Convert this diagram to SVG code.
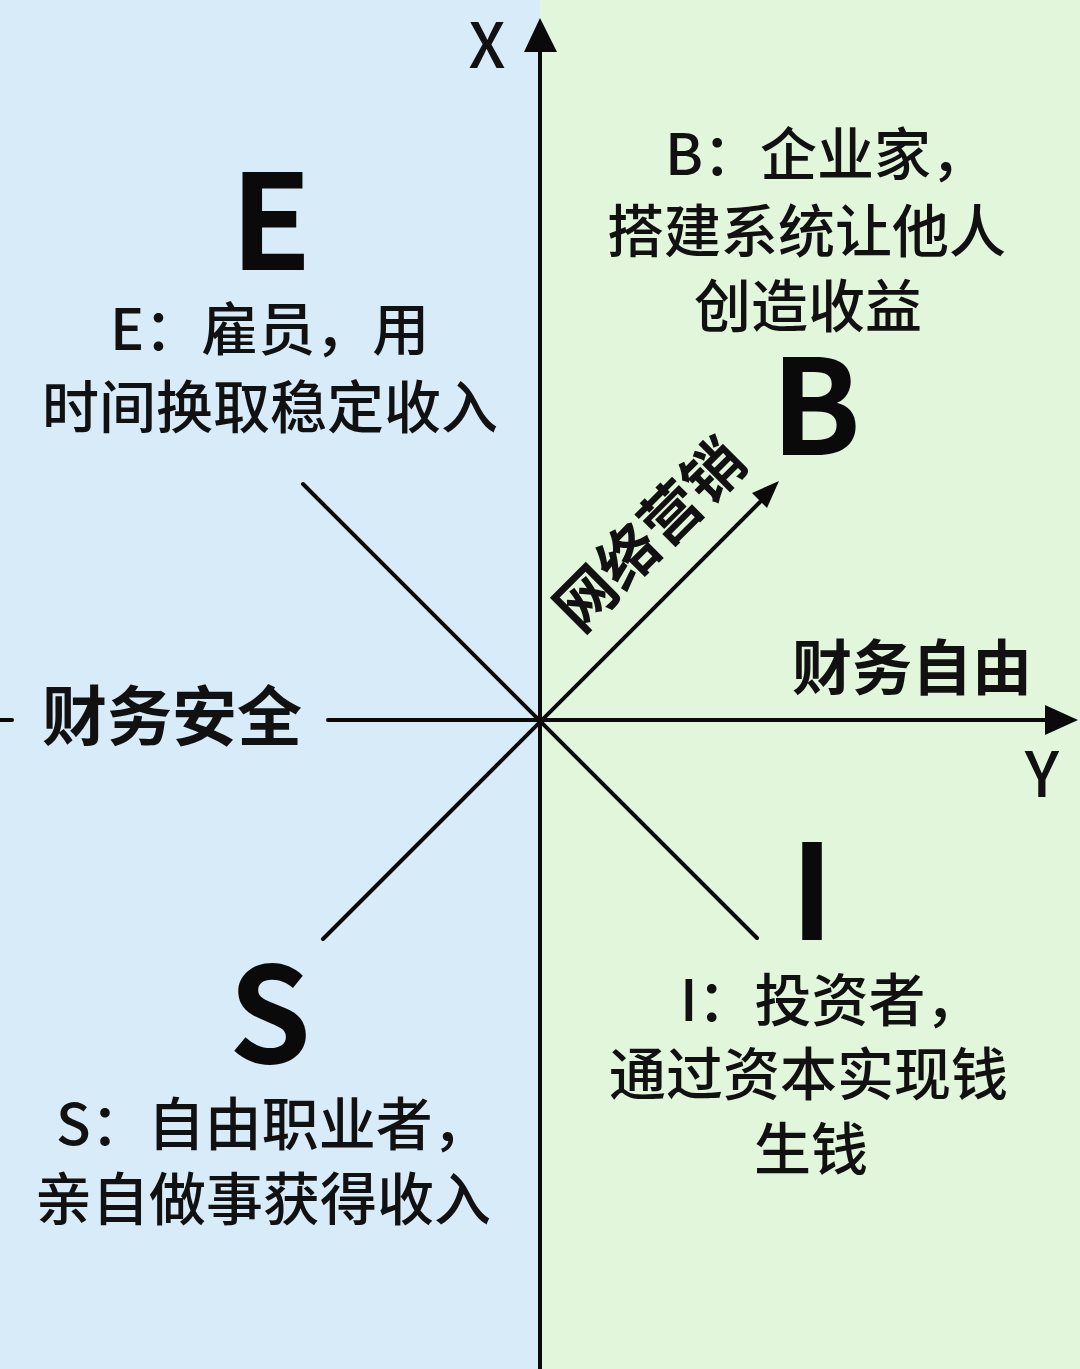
<svg xmlns="http://www.w3.org/2000/svg" width="1080" height="1369" viewBox="0 0 1080 1369">
<defs>
<style>
.t{font-family:"Noto Sans CJK SC","Liberation Sans",sans-serif;fill:#111;font-size:57px;font-weight:500}
.big{font-family:"Noto Sans CJK SC","Liberation Sans",sans-serif;font-weight:700;fill:#0a0a0a;font-size:132px;text-anchor:middle}
.lbl{font-family:"Noto Sans CJK SC","Liberation Sans",sans-serif;font-weight:700;fill:#111}
.xy{font-family:"Noto Sans CJK SC","Liberation Sans",sans-serif;font-weight:500;fill:#111;font-size:62px;text-anchor:middle}
.ax{stroke:#0a0a0a;stroke-width:4;fill:none;stroke-linecap:round}
</style>
</defs>
<rect x="0" y="0" width="540" height="1369" fill="#d7ebf8"/>
<rect x="540" y="0" width="540" height="1369" fill="#e2f6dc"/>
<g id="connectors">
<line class="ax" x1="540" y1="1369" x2="540" y2="50"/>
<polygon points="540,18 524,52 557,52" fill="#0a0a0a"/>
<line class="ax" x1="0" y1="720" x2="12" y2="720"/>
<line class="ax" x1="328" y1="720" x2="1048" y2="720"/>
<polygon points="1078,720 1045,705 1045,735" fill="#0a0a0a"/>
<line class="ax" x1="303" y1="484" x2="757" y2="938"/>
<line class="ax" x1="323" y1="939" x2="760" y2="502"/>
<polygon points="779,481 752,493 767,508" fill="#0a0a0a"/>
</g>
<g id="axis-labels">
<text class="xy" x="487" y="68">X</text>
<text class="xy" x="1042" y="797">Y</text>
<text class="lbl" x="172" y="740" font-size="65" text-anchor="middle">财务安全</text>
<text class="lbl" x="912" y="690" font-size="60" text-anchor="middle">财务自由</text>
<text class="lbl" font-size="60" text-anchor="middle" transform="translate(665,550) rotate(-45)">网络营销</text>
</g>
<g id="node-E">
<text class="big" x="271" y="270">E</text>
<text class="t" x="110" y="350">E：雇员，用</text>
<text class="t" x="42" y="428">时间换取稳定收入</text>
</g>
<g id="node-B">
<text class="big" x="816" y="455">B</text>
<text class="t" x="665" y="175">B：企业家，</text>
<text class="t" x="607" y="252">搭建系统让他人</text>
<text class="t" x="694" y="327">创造收益</text>
</g>
<g id="node-I">
<text class="big" x="812" y="940">I</text>
<text class="t" x="680" y="1021">I：投资者，</text>
<text class="t" x="609" y="1095">通过资本实现钱</text>
<text class="t" x="754" y="1170">生钱</text>
</g>
<g id="node-S">
<text class="big" x="270" y="1063">S</text>
<text class="t" x="56" y="1145">S：自由职业者，</text>
<text class="t" x="35" y="1220">亲自做事获得收入</text>
</g>
</svg>
